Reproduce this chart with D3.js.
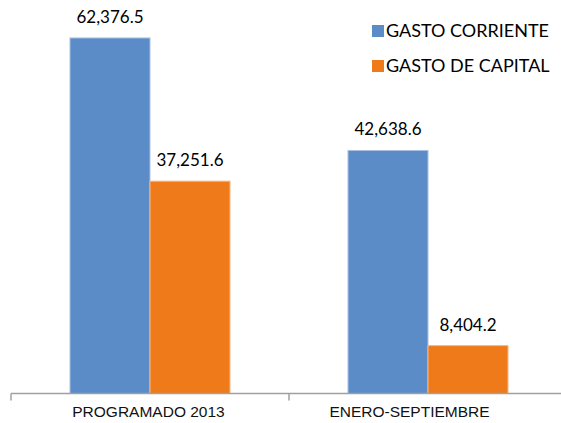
<!DOCTYPE html>
<html>
<head>
<meta charset="utf-8">
<script src="https://cdn.jsdelivr.net/npm/d3@7"></script>
<style>
  body { margin: 0; background: #fff; }
  svg { display: block; }
</style>
</head>
<body>
<svg id="chart"></svg>
<script>
var categories = ["PROGRAMADO 2013", "ENERO-SEPTIEMBRE"];
var seriesNames = ["GASTO CORRIENTE", "GASTO DE CAPITAL"];
var gastoCorriente = [62376.5, 42638.6];
var gastoCapital = [37251.6, 8404.2];

var colors = ["#5b8cc8", "#ee7a19"];
var strokes = ["#a9c2e4", "#f5b98a"];

var width = 561, height = 423;
var svg = d3.select("#chart").attr("width", width).attr("height", height);

// rows per category
var data = categories.map(function(c, i) {
  return {cat: c, values: [gastoCorriente[i], gastoCapital[i]]};
});

var x = d3.scaleBand().domain(categories).range([11, 567]).padding(0);
var x1 = d3.scaleBand().domain([0, 1]).range([0, 160]);
// label positions sit a bit left of the bar groups in the original
var xLbl = d3.scaleBand().domain(categories).range([18, 540]);
var y = d3.scaleLinear().domain([0, 70000]).range([393.5, -5.5]);

var fmt = d3.format(",.1f");

var groups = svg.selectAll(".grp")
    .data(data)
  .enter().append("g")
    .attr("class", "grp")
    .attr("transform", function(d) {
      return "translate(" + (x(d.cat) + (x.bandwidth() - 160) / 2) + ",0)";
    });

groups.selectAll("rect")
    .data(function(d) { return d.values; })
  .enter().append("rect")
    .attr("x", function(d, i) { return x1(i); })
    .attr("y", function(d) { return y(d); })
    .attr("width", x1.bandwidth())
    .attr("height", function(d) { return y(0) - y(d); })
    .attr("fill", function(d, i) { return colors[i]; })
    .attr("stroke", function(d, i) { return strokes[i]; })
    .attr("stroke-width", 1);

groups.selectAll(".val")
    .data(function(d) { return d.values; })
  .enter().append("text")
    .attr("class", "val")
    .attr("x", function(d, i) { return x1(i) + x1.bandwidth() / 2; })
    .attr("y", function(d) { return y(d) - 15; })
    .attr("text-anchor", "middle")
    .style("font-family", "Lato, 'Open Sans', sans-serif")
    .style("font-size", "17px")
    .style("fill", "#000")
    .text(function(d) { return fmt(d); });

// x axis
var axis = svg.append("g")
    .attr("transform", "translate(0," + y(0) + ")");
axis.append("line")
    .attr("x1", 11).attr("x2", width)
    .attr("y1", 0).attr("y2", 0)
    .attr("stroke", "#a0a0a0").attr("stroke-width", 1.5);
axis.selectAll(".tick")
    .data(categories)
  .enter().append("line")
    .attr("x1", function(d) { return x(d); })
    .attr("x2", function(d) { return x(d); })
    .attr("y1", 0).attr("y2", 7)
    .attr("stroke", "#a0a0a0").attr("stroke-width", 1.5);
axis.selectAll(".lbl")
    .data(categories)
  .enter().append("text")
    .attr("x", function(d) { return xLbl(d) + xLbl.bandwidth() / 2; })
    .attr("y", 23)
    .attr("text-anchor", "middle")
    .style("font-family", "'Liberation Sans', Arial, sans-serif")
    .style("font-size", "15.5px")
    .style("fill", "#111")
    .text(function(d) { return d; });

// legend
var legend = svg.selectAll(".leg")
    .data(seriesNames)
  .enter().append("g")
    .attr("transform", function(d, i) { return "translate(372," + (25 + i * 35) + ")"; });
legend.append("rect")
    .attr("width", 12).attr("height", 12)
    .attr("fill", function(d, i) { return colors[i]; });
legend.append("text")
    .attr("x", 14).attr("y", 12)
    .style("font-family", "Lato, 'Open Sans', sans-serif")
    .style("font-size", "18px")
    .style("fill", "#000")
    .text(function(d) { return d; });
</script>
</body>
</html>
